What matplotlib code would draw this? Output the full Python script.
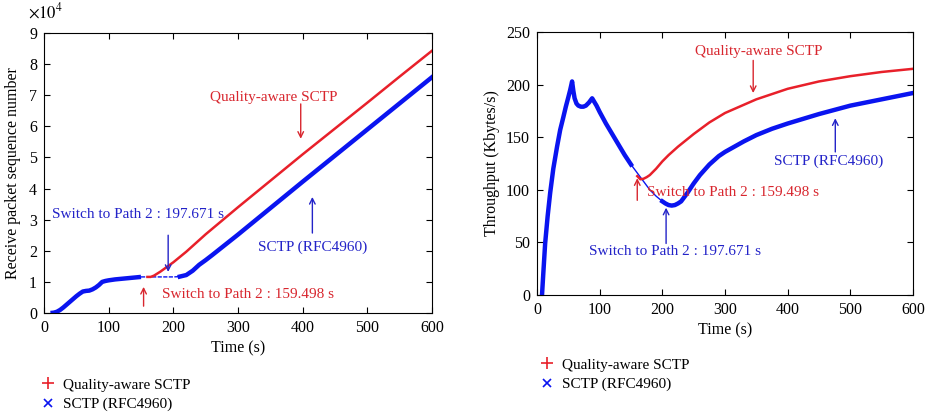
import matplotlib
matplotlib.use("Agg")
import matplotlib.pyplot as plt
from matplotlib.lines import Line2D

plt.rcParams["font.family"] = ["Liberation Serif", "DejaVu Serif"]
plt.rcParams["mathtext.fontset"] = "stix"

RED = "#e8202a"
BLUE = "#0a14f0"
RED_TXT = "#d8262e"
BLUE_TXT = "#2323c8"

# Left panel: receive packet sequence number (x 1e4)
seq_t_blue = [10, 15, 20, 25, 30, 35, 40, 45, 50, 55, 60, 65, 70, 75, 80, 85, 90, 95,
              100, 110, 120, 130, 140, 150]
seq_v_blue = [0, 0.01, 0.04, 0.1, 0.18, 0.27, 0.36, 0.45, 0.54, 0.62, 0.69, 0.71, 0.72,
              0.76, 0.82, 0.9, 1.0, 1.03, 1.05, 1.08, 1.1, 1.12, 1.14, 1.16]
seq_t_blue_gap = [150, 160, 170, 180, 190, 200, 210]
seq_v_blue_gap = [1.16, 1.16, 1.16, 1.16, 1.16, 1.16, 1.17]
seq_t_blue2 = [210, 220, 230, 240, 250, 260, 280, 300, 350, 400, 450, 500, 550, 600]
seq_v_blue2 = [1.17, 1.22, 1.36, 1.55, 1.7, 1.86, 2.19, 2.52, 3.37, 4.22, 5.06, 5.9, 6.74, 7.58]
seq_t_red = [160, 165, 170, 180, 190, 200, 220, 250, 300, 350, 400, 450, 500, 550, 600]
seq_v_red = [1.16, 1.16, 1.2, 1.33, 1.48, 1.63, 1.97, 2.53, 3.4, 4.25, 5.1, 5.93, 6.76, 7.6, 8.43]

# Right panel: throughput (Kbytes/s)
thr_t_blue = [8, 10, 13, 17, 21, 26, 32, 37, 42, 46, 50, 53, 56, 58, 60, 63, 66, 70, 74,
              78, 83, 88, 92, 95, 100, 110, 120, 130, 140, 150]
thr_v_blue = [0, 20, 49, 75, 97, 120, 141, 157, 169, 179, 188, 195, 203, 194, 187, 182,
              180, 179, 179, 180, 183, 187, 183, 180, 174, 163, 153, 143, 133, 124]
thr_t_blue_gap = [150, 160, 170, 180, 190, 200]
thr_v_blue_gap = [124, 116, 108, 100, 94, 89]
thr_t_blue2 = [200, 205, 210, 215, 220, 225, 230, 240, 250, 260, 275, 290, 300, 315, 330,
               350, 375, 400, 450, 500, 550, 600]
thr_v_blue2 = [89, 87, 85.5, 85, 85.5, 87, 89, 97, 106, 114, 124, 132, 136, 141, 146,
               152, 158, 163, 172, 180, 186, 192]
thr_t_red = [160, 165, 170, 175, 180, 190, 200, 210, 225, 250, 275, 300, 350, 400, 450,
             500, 550, 600]
thr_v_red = [113, 110, 110.5, 112, 114, 120, 127, 133, 141, 153, 164, 173, 186, 196, 203,
             208, 212, 215]

legend_labels = ["Quality-aware SCTP", "SCTP (RFC4960)"]

fig = plt.figure(figsize=(9.31, 4.18), dpi=100)
ax1 = fig.add_axes([44 / 931, 1 - 313 / 418, 388 / 931, 280 / 418])
ax2 = fig.add_axes([537 / 931, 1 - 295 / 418, 376 / 931, 263 / 418])

for ax in (ax1, ax2):
    ax.tick_params(direction="in", top=True, right=True, length=4, labelsize=11.5, pad=5)
    ax.set_xlim(0, 600)
    ax.set_xticks(range(0, 601, 100))
    ax.set_xlabel("Time (s)", fontsize=11.5, labelpad=3)

# left
ax1.plot(seq_t_blue, seq_v_blue, color=BLUE, lw=3.2, solid_capstyle="butt")
ax1.plot(seq_t_blue_gap, seq_v_blue_gap, color=BLUE, lw=1.0, ls=(0, (3, 1)))
ax1.plot(seq_t_blue2, seq_v_blue2, color=BLUE, lw=3.2)
ax1.plot(seq_t_red, seq_v_red, color=RED, lw=1.8)
ax1.set_ylim(0, 9)
ax1.set_yticks(range(0, 10))
ax1.set_ylabel("Receive packet sequence number", fontsize=11.5, labelpad=6)
ax1.text(-0.04, 1.075, r"$\times10^4$", transform=ax1.transAxes, fontsize=12,
         ha="left", va="center")

arrow = dict(arrowstyle="->", lw=1.0, shrinkA=0, shrinkB=0)
ax1.text(356, 6.94, "Quality-aware SCTP", color=RED_TXT, fontsize=11, ha="center", va="center")
ax1.annotate("", xy=(397, 5.6), xytext=(397, 6.72), arrowprops=dict(arrow, color=RED_TXT))
ax1.text(416, 2.12, "SCTP (RFC4960)", color=BLUE_TXT, fontsize=11, ha="center", va="center")
ax1.annotate("", xy=(415, 3.73), xytext=(415, 2.57), arrowprops=dict(arrow, color=BLUE_TXT))
ax1.text(145, 3.15, "Switch to Path 2 : 197.671 s", color=BLUE_TXT, fontsize=11,
         ha="center", va="center")
ax1.annotate("", xy=(192, 1.32), xytext=(192, 2.5), arrowprops=dict(arrow, color=BLUE_TXT))
ax1.text(182, 0.58, "Switch to Path 2 : 159.498 s", color=RED_TXT, fontsize=11,
         ha="left", va="center")
ax1.annotate("", xy=(154, 0.84), xytext=(154, 0.22), arrowprops=dict(arrow, color=RED_TXT))

# right
ax2.plot(thr_t_blue, thr_v_blue, color=BLUE, lw=3.2)
ax2.plot(thr_t_blue_gap, thr_v_blue_gap, color=BLUE, lw=1.0)
ax2.plot(thr_t_blue2, thr_v_blue2, color=BLUE, lw=3.2)
ax2.plot(thr_t_red, thr_v_red, color=RED, lw=1.8)
ax2.set_ylim(0, 250)
ax2.set_yticks(range(0, 251, 50))
ax2.set_ylabel("Throughput (Kbytes/s)", fontsize=11.5, labelpad=4)

ax2.text(354, 231, "Quality-aware SCTP", color=RED_TXT, fontsize=11, ha="center", va="center")
ax2.annotate("", xy=(345, 192), xytext=(345, 223), arrowprops=dict(arrow, color=RED_TXT))
ax2.text(466, 127, "SCTP (RFC4960)", color=BLUE_TXT, fontsize=11, ha="center", va="center")
ax2.annotate("", xy=(476, 168), xytext=(476, 136), arrowprops=dict(arrow, color=BLUE_TXT))
ax2.text(176, 97, "Switch to Path 2 : 159.498 s", color=RED_TXT, fontsize=11,
         ha="left", va="center")
ax2.annotate("", xy=(160, 111), xytext=(160, 90), arrowprops=dict(arrow, color=RED_TXT))
ax2.text(220, 41, "Switch to Path 2 : 197.671 s", color=BLUE_TXT, fontsize=11,
         ha="center", va="center")
ax2.annotate("", xy=(206, 83), xytext=(206, 49), arrowprops=dict(arrow, color=BLUE_TXT))

# legends below each panel
handles = [Line2D([], [], marker="+", color=RED, ls="none", markersize=8, mew=1.2),
           Line2D([], [], marker="x", color=BLUE, ls="none", markersize=6, mew=1.2)]
for ax, x0, y0 in ((ax1, 42 / 931, 1 - 378 / 418), (ax2, 541 / 931, 1 - 358 / 418)):
    ax.legend(handles, legend_labels, loc="upper left", bbox_to_anchor=(x0, y0),
              bbox_transform=fig.transFigure, frameon=False, fontsize=11,
              handlelength=0.8, handletextpad=0.6, labelspacing=0.38,
              borderpad=0, borderaxespad=0)

fig.savefig("out.png", dpi=100)
